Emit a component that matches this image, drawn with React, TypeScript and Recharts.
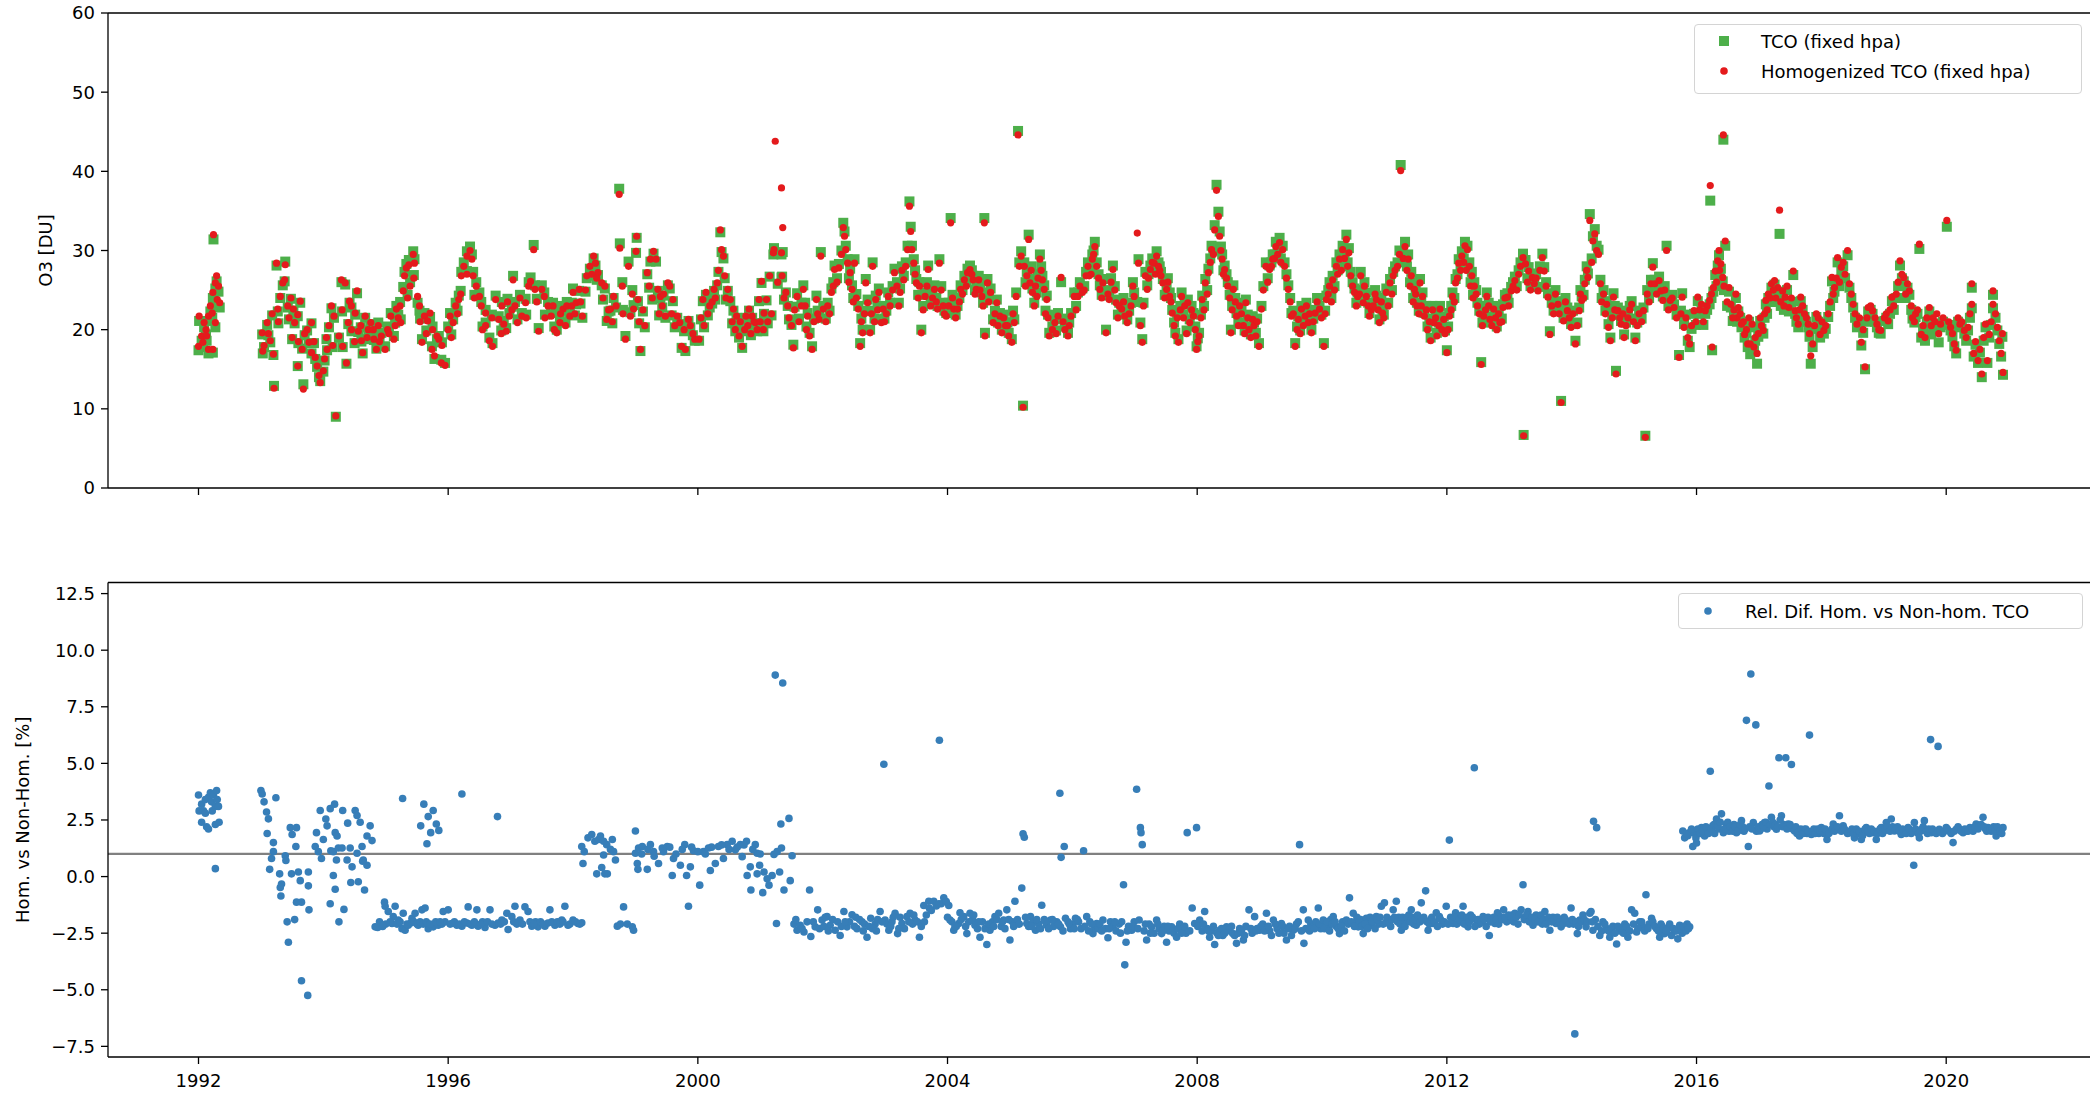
import { ScatterChart, Scatter, XAxis, YAxis, ReferenceLine, Legend } from "recharts"

type Row3 = [number, number, number]
type Row2 = [number, number]

const FONT = "DejaVu Sans"
const GREEN = "#4daf4a"
const RED = "#e41a1c"
const BLUE = "#377eb8"

// [decimal year, homogenized TCO, TCO] in DU
const tco1992to1994: Row3[] = [
  [1992.0, 17.9, 17.4], [1992.01, 21.7, 21.1], [1992.05, 19.2, 18.6], [1992.07, 18.4, 17.8], [1992.09, 20.9, 20.3],
  [1992.12, 20.0, 19.4], [1992.13, 19.2, 18.6], [1992.16, 21.7, 21.1], [1992.16, 17.5, 17.0], [1992.19, 23.0, 22.3],
  [1992.22, 22.1, 21.5], [1992.23, 24.7, 24.0], [1992.23, 17.5, 17.1], [1992.24, 32.0, 31.4], [1992.27, 25.9, 25.2],
  [1992.27, 20.9, 20.3], [1992.29, 26.8, 26.1], [1992.3, 23.8, 23.1], [1992.32, 25.5, 24.8], [1992.34, 23.4, 22.8],
  [1993.02, 19.6, 19.4], [1993.03, 17.3, 17.0], [1993.1, 20.9, 20.6], [1993.15, 18.6, 18.4], [1993.2, 16.9, 16.8],
  [1993.21, 12.6, 12.9], [1993.25, 28.4, 28.1], [1993.27, 22.6, 22.3], [1993.31, 24.2, 24.0], [1993.35, 25.9, 25.6],
  [1993.39, 28.2, 28.6], [1993.38, 26.3, 26.1], [1993.43, 23.0, 22.8], [1993.48, 24.0, 23.9], [1993.52, 22.6, 22.4],
  [1993.54, 20.9, 20.8], [1993.59, 21.9, 21.7], [1993.59, 15.4, 15.4], [1993.63, 23.6, 23.4], [1993.66, 17.5, 17.6],
  [1993.68, 12.5, 13.1], [1993.74, 20.0, 19.9], [1993.77, 18.4, 18.3], [1993.81, 20.9, 20.8], [1993.81, 17.1, 17.0],
  [1993.87, 16.5, 16.3], [1993.9, 15.4, 15.3], [1993.93, 14.2, 14.0], [1993.95, 13.3, 13.5], [1994.0, 14.8, 14.7],
  [1994.02, 16.3, 16.1], [1994.06, 17.5, 17.4], [1994.09, 20.5, 20.3], [1994.13, 23.0, 22.7], [1994.17, 21.7, 21.5],
  [1994.2, 9.1, 9.0], [1994.25, 19.2, 19.0], [1994.29, 26.3, 26.0], [1994.35, 25.9, 25.7], [1994.31, 17.9, 17.8],
  [1994.37, 15.8, 15.7], [1994.4, 20.9, 20.7], [1994.42, 23.6, 23.4], [1994.45, 23.0, 22.8], [1994.51, 22.1, 21.9],
  [1994.54, 24.9, 24.6], [1994.56, 19.8, 19.7], [1994.61, 18.6, 18.5], [1994.63, 17.1, 17.0], [1994.67, 21.7, 21.5],
  [1994.72, 20.0, 19.9], [1994.76, 20.9, 20.7], [1994.81, 18.8, 18.7], [1994.85, 17.5, 17.6], [1994.88, 20.5, 20.9],
  [1994.93, 19.2, 19.6], [1994.99, 17.5, 17.9],
]

const tco1995to1997: Row3[] = [
  [1995.03, 20.0, 20.4], [1995.08, 21.7, 22.1], [1995.13, 18.8, 19.2], [1995.17, 22.6, 23.0], [1995.23, 23.0, 23.5],
  [1995.24, 20.9, 21.3], [1995.28, 24.9, 25.4], [1995.3, 26.8, 27.3], [1995.33, 27.8, 28.3], [1995.37, 28.2, 28.8],
  [1995.44, 29.5, 29.9], [1995.46, 28.4, 28.9], [1995.39, 25.5, 26.0], [1995.51, 24.2, 23.4], [1995.54, 23.0, 22.4],
  [1995.58, 18.4, 18.8], [1995.62, 21.7, 22.1], [1995.67, 21.1, 21.5], [1995.71, 22.1, 21.6], [1995.74, 17.5, 17.9],
  [1995.78, 16.7, 16.3], [1995.82, 19.2, 18.8], [1995.85, 18.8, 19.2], [1995.89, 15.8, 16.2], [1995.95, 15.5, 15.8],
  [1996.0, 20.0, 20.4], [1996.03, 21.7, 22.1], [1996.08, 20.9, 21.3], [1996.12, 23.0, 23.4], [1996.17, 23.8, 24.3],
  [1996.21, 26.8, 27.3], [1996.25, 28.0, 28.5], [1996.3, 29.3, 29.9], [1996.35, 30.0, 30.5], [1996.38, 28.9, 29.5],
  [1996.4, 26.8, 27.3], [1996.45, 25.5, 26.0], [1996.5, 24.2, 24.7], [1996.53, 23.0, 23.5], [1996.55, 20.0, 20.4],
  [1996.6, 22.1, 22.5], [1996.66, 18.6, 19.0], [1996.71, 17.9, 18.3], [1996.76, 23.8, 24.3], [1996.81, 21.3, 21.7],
  [1996.86, 23.0, 23.5], [1996.89, 20.7, 21.1], [1996.93, 19.8, 20.2], [1996.98, 21.7, 22.1], [1997.04, 26.3, 26.8],
  [1997.07, 23.0, 23.5], [1997.11, 20.9, 21.3], [1997.18, 21.7, 22.1], [1997.24, 23.4, 23.9], [1997.29, 25.5, 26.0],
  [1997.32, 26.1, 26.6], [1997.37, 30.1, 30.7], [1997.39, 25.1, 25.6], [1997.45, 19.8, 20.2], [1997.5, 25.1, 25.6],
  [1997.54, 24.2, 24.7], [1997.6, 23.0, 23.5], [1997.65, 21.7, 22.1], [1997.7, 20.0, 20.4], [1997.74, 19.6, 20.0],
  [1997.79, 20.9, 21.3], [1997.84, 22.6, 23.0], [1997.9, 23.0, 23.5], [1997.95, 21.7, 22.1],
]

const tcoFill1993to1997: Row3[] = [
  [1993.05, 18.0, 17.8], [1993.12, 19.5, 19.3], [1993.18, 22.0, 21.8], [1993.28, 21.0, 20.8], [1993.45, 21.5, 21.3],
  [1993.5, 19.0, 18.8], [1993.6, 18.5, 18.3], [1993.7, 19.5, 19.3], [1993.85, 18.5, 18.3], [1994.05, 19.0, 18.8],
  [1994.15, 18.0, 17.8], [1994.3, 22.5, 22.3], [1994.45, 20.0, 19.8], [1994.5, 18.5, 18.3], [1994.6, 20.5, 20.3],
  [1994.7, 19.0, 18.8], [1994.8, 20.0, 19.8], [1994.9, 18.5, 18.9], [1995.05, 19.5, 19.9], [1995.15, 20.5, 20.9],
  [1995.2, 21.5, 21.9], [1995.35, 24.0, 24.4], [1995.45, 26.5, 26.9], [1995.55, 21.0, 21.4], [1995.65, 19.5, 19.9],
  [1995.75, 20.0, 20.4], [1995.9, 18.0, 18.4], [1996.05, 19.0, 19.4], [1996.15, 22.0, 22.4], [1996.2, 24.5, 24.9],
  [1996.3, 27.0, 27.4], [1996.42, 24.0, 24.4], [1996.6, 20.5, 20.9], [1996.7, 21.5, 21.9], [1996.85, 19.5, 19.9],
  [1996.95, 23.5, 23.9], [1997.02, 22.5, 22.9], [1997.15, 24.0, 24.4], [1997.25, 21.5, 21.9], [1997.42, 23.5, 23.9],
  [1997.55, 21.5, 21.9], [1997.68, 23.0, 23.4], [1997.8, 22.0, 22.4], [1997.88, 20.5, 20.9], [1997.98, 23.0, 23.4],
]

const tco1998to2001: Row3[] = [
  [1998.0, 24.7, 25.2], [1998.05, 23.4, 23.2], [1998.1, 25.1, 24.9], [1998.15, 21.7, 21.5], [1998.22, 26.8, 26.5],
  [1998.27, 28.0, 27.7], [1998.33, 29.3, 29.0], [1998.36, 28.4, 28.1], [1998.4, 27.2, 26.9], [1998.46, 25.9, 25.6],
  [1998.51, 25.5, 25.2], [1998.54, 21.3, 21.1], [1998.6, 22.6, 22.4], [1998.65, 24.2, 24.0], [1998.69, 23.0, 22.8],
  [1998.74, 37.1, 37.8], [1998.75, 30.3, 30.9], [1998.79, 25.5, 26.0], [1998.84, 18.8, 19.2], [1998.89, 28.0, 28.6],
  [1998.92, 21.7, 22.2], [1998.97, 22.6, 23.1], [1999.02, 31.8, 31.6], [1999.01, 29.9, 29.7], [1999.04, 23.8, 23.6],
  [1999.08, 17.5, 17.3], [1999.15, 20.5, 20.3], [1999.19, 27.2, 27.0], [1999.24, 28.9, 28.6], [1999.29, 29.9, 29.6],
  [1999.33, 28.9, 28.6], [1999.36, 25.1, 24.9], [1999.4, 24.2, 24.0], [1999.43, 23.0, 22.8], [1999.48, 21.7, 21.5],
  [1999.52, 25.9, 25.6], [1999.55, 25.5, 25.2], [1999.6, 23.8, 23.6], [1999.67, 21.7, 21.5], [1999.71, 20.9, 20.7],
  [1999.74, 17.9, 17.7], [1999.8, 17.5, 17.3], [1999.85, 21.3, 21.1], [1999.88, 20.5, 20.3], [1999.95, 18.8, 18.6],
  [2000.02, 18.8, 18.6], [2000.08, 23.8, 23.6], [2000.13, 24.7, 24.4], [2000.19, 23.0, 22.8], [2000.26, 25.1, 24.9],
  [2000.31, 25.9, 25.6], [2000.36, 32.6, 32.3], [2000.38, 30.1, 29.8], [2000.41, 29.3, 29.0], [2000.43, 26.8, 26.5],
  [2000.48, 25.1, 24.9], [2000.52, 23.8, 23.6], [2000.57, 22.6, 22.4], [2000.62, 21.7, 21.5], [2000.66, 19.2, 19.0],
  [2000.71, 17.9, 17.7], [2000.77, 21.7, 21.5], [2000.82, 22.6, 22.4], [2000.87, 21.7, 21.5], [2000.92, 20.9, 20.7],
  [2000.98, 23.8, 23.6], [2001.02, 26.1, 25.9], [2001.06, 22.1, 22.0], [2001.1, 23.8, 23.7], [2001.15, 26.8, 26.7],
  [2001.21, 29.7, 29.5], [2001.22, 30.1, 30.3], [2001.24, 43.8, 29.6], [2001.34, 37.9, 26.6], [2001.36, 32.9, 29.8],
  [2001.34, 29.7, 29.5], [2001.35, 26.8, 26.7], [2001.41, 24.7, 24.7], [2001.44, 23.0, 23.0], [2001.5, 20.5, 20.6],
  [2001.53, 17.7, 18.1], [2001.59, 24.2, 24.6], [2001.69, 25.1, 25.6], [2001.72, 23.0, 23.4], [2001.76, 21.7, 22.1],
  [2001.79, 19.2, 19.6], [2001.83, 17.5, 17.9], [2001.9, 23.8, 24.3], [2001.94, 21.3, 21.7], [2001.97, 29.3, 29.8],
]

const tcoFill1998to2002: Row3[] = [
  [1998.03, 22.0, 21.8], [1998.12, 23.5, 23.3], [1998.2, 25.0, 24.8], [1998.3, 27.0, 26.8], [1998.38, 26.5, 26.3],
  [1998.48, 24.0, 23.8], [1998.57, 22.5, 22.3], [1998.63, 21.0, 20.8], [1998.8, 22.0, 22.5], [1998.95, 24.5, 25.0],
  [1999.06, 21.0, 20.8], [1999.12, 22.5, 22.3], [1999.22, 25.5, 25.3], [1999.27, 24.0, 23.8], [1999.38, 22.0, 21.8],
  [1999.45, 24.5, 24.3], [1999.58, 22.0, 21.8], [1999.63, 20.5, 20.3], [1999.78, 20.0, 19.8], [1999.92, 19.5, 19.3],
  [2000.05, 21.5, 21.3], [2000.1, 20.5, 20.3], [2000.16, 22.0, 21.8], [2000.23, 23.5, 23.3], [2000.28, 24.0, 23.8],
  [2000.33, 27.5, 27.3], [2000.45, 24.0, 23.8], [2000.55, 21.0, 20.8], [2000.6, 20.0, 19.8], [2000.68, 21.0, 20.8],
  [2000.75, 20.0, 19.8], [2000.8, 20.5, 20.3], [2000.85, 19.5, 19.3], [2000.9, 21.0, 20.8], [2000.95, 20.0, 19.8],
  [2001.0, 21.0, 20.8], [2001.05, 20.0, 19.8], [2001.12, 21.0, 20.8], [2001.18, 22.0, 21.8], [2001.28, 26.0, 25.8],
  [2001.38, 24.0, 23.8], [2001.46, 21.5, 21.3], [2001.55, 22.5, 22.9], [2001.62, 21.0, 21.4], [2001.66, 23.0, 23.4],
  [2001.74, 20.0, 20.4], [2001.86, 21.0, 21.4], [2001.92, 22.0, 22.4], [2002.05, 21.0, 21.4], [2002.11, 22.0, 22.4],
  [2002.17, 25.5, 26.0], [2002.23, 26.0, 26.5], [2002.3, 29.5, 30.0], [2002.42, 26.0, 26.5], [2002.49, 23.5, 24.0],
  [2002.54, 24.0, 24.5], [2002.62, 21.0, 21.4], [2002.67, 22.0, 22.4], [2002.78, 22.0, 22.4], [2002.83, 21.0, 21.4],
  [2002.88, 22.5, 23.0], [2002.99, 21.0, 21.4],
]

const tco2002to2005: Row3[] = [
  [2002.01, 22.6, 23.0], [2002.08, 23.0, 23.4], [2002.14, 24.7, 25.2], [2002.19, 27.6, 28.1], [2002.26, 27.8, 28.3],
  [2002.33, 32.9, 33.5], [2002.35, 31.8, 32.4], [2002.37, 30.1, 30.6], [2002.4, 28.4, 28.9], [2002.44, 27.2, 27.7],
  [2002.47, 25.1, 25.6], [2002.51, 28.4, 28.9], [2002.57, 22.6, 23.0], [2002.6, 17.9, 18.3], [2002.64, 19.6, 20.0],
  [2002.69, 25.9, 26.4], [2002.72, 23.4, 23.8], [2002.76, 19.6, 20.0], [2002.8, 28.0, 28.5], [2002.85, 23.8, 24.3],
  [2002.9, 24.7, 25.2], [2002.94, 20.9, 21.3], [2002.97, 22.6, 23.0], [2003.05, 24.2, 24.7], [2003.08, 23.0, 23.4],
  [2003.15, 27.2, 27.7], [2003.19, 25.5, 26.0], [2003.24, 24.7, 25.2], [2003.3, 26.3, 26.8], [2003.36, 30.1, 30.6],
  [2003.39, 35.6, 36.2], [2003.41, 32.4, 33.0], [2003.43, 30.1, 30.6], [2003.46, 28.4, 28.9], [2003.5, 25.9, 26.4],
  [2003.55, 25.5, 26.0], [2003.58, 19.6, 20.0], [2003.64, 24.2, 24.7], [2003.69, 27.6, 28.1], [2003.73, 23.0, 23.4],
  [2003.79, 25.1, 25.6], [2003.84, 22.6, 23.0], [2003.87, 28.4, 28.9], [2003.93, 23.0, 23.4], [2003.98, 21.7, 22.1],
  [2004.05, 33.5, 34.1], [2004.1, 22.6, 23.0], [2004.16, 22.6, 23.0], [2004.21, 25.1, 25.6], [2004.27, 26.3, 26.8],
  [2004.32, 27.2, 27.7], [2004.36, 27.6, 28.1], [2004.41, 26.3, 26.8], [2004.46, 25.1, 25.6], [2004.5, 26.3, 26.8],
  [2004.55, 24.2, 24.7], [2004.59, 33.5, 34.1], [2004.6, 19.2, 19.6], [2004.64, 25.9, 26.4], [2004.69, 24.7, 25.2],
  [2004.73, 20.9, 21.3], [2004.79, 23.4, 23.8], [2004.84, 21.7, 22.1], [2004.87, 19.6, 20.0], [2004.93, 20.5, 20.9],
  [2004.98, 19.2, 19.6], [2005.03, 18.4, 18.8], [2005.07, 20.9, 21.3], [2005.1, 24.2, 24.7], [2005.13, 44.6, 45.1],
  [2005.15, 28.0, 28.5], [2005.18, 29.3, 29.9], [2005.21, 10.2, 10.4], [2005.23, 28.0, 28.5], [2005.27, 26.8, 27.3],
  [2005.3, 31.4, 32.0], [2005.32, 25.9, 26.4], [2005.36, 24.7, 25.2], [2005.39, 23.0, 23.4], [2005.43, 24.2, 24.7],
  [2005.48, 28.9, 29.5], [2005.52, 26.3, 26.8], [2005.55, 25.1, 25.6], [2005.59, 23.8, 24.3], [2005.63, 19.2, 19.6],
  [2005.72, 20.9, 21.3], [2005.77, 21.7, 22.1], [2005.82, 26.6, 26.0], [2005.88, 20.0, 20.4], [2005.93, 19.2, 19.6],
  [2005.98, 21.7, 22.1],
]

const tcoFill2003to2007: Row3[] = [
  [2003.02, 22.0, 22.4], [2003.12, 25.0, 25.5], [2003.22, 23.0, 23.4], [2003.27, 27.5, 28.0], [2003.33, 28.0, 28.5],
  [2003.48, 27.0, 27.5], [2003.53, 24.0, 24.4], [2003.61, 22.5, 23.0], [2003.67, 25.5, 26.0], [2003.76, 24.0, 24.4],
  [2003.82, 23.5, 24.0], [2003.9, 25.0, 25.5], [2003.95, 22.0, 22.4], [2004.02, 23.0, 23.4], [2004.08, 24.0, 24.4],
  [2004.13, 21.5, 21.9], [2004.19, 23.5, 24.0], [2004.24, 24.5, 25.0], [2004.3, 25.5, 26.0], [2004.39, 27.0, 27.5],
  [2004.44, 24.5, 25.0], [2004.52, 25.0, 25.5], [2004.57, 23.0, 23.4], [2004.66, 23.5, 24.0], [2004.76, 22.0, 22.4],
  [2004.81, 20.5, 20.9], [2004.9, 21.5, 21.9], [2004.96, 20.5, 20.9], [2005.05, 22.0, 22.4], [2005.25, 25.5, 26.0],
  [2005.34, 27.5, 28.0], [2005.41, 25.5, 26.0], [2005.45, 26.5, 27.0], [2005.5, 27.5, 28.0], [2005.57, 22.0, 22.4],
  [2005.61, 21.5, 21.9], [2005.68, 20.0, 20.4], [2005.74, 19.5, 19.9], [2005.85, 21.0, 21.4], [2005.95, 20.5, 20.9],
  [2006.06, 22.5, 23.0], [2006.12, 25.5, 26.0], [2006.19, 25.0, 25.5], [2006.25, 28.0, 28.5], [2006.3, 27.0, 27.5],
  [2006.34, 29.5, 30.0], [2006.42, 26.5, 27.0], [2006.47, 24.0, 24.4], [2006.57, 24.5, 25.0], [2006.62, 26.0, 26.5],
  [2006.68, 25.0, 25.5], [2006.73, 21.5, 21.9], [2006.82, 23.5, 24.0], [2006.91, 22.0, 22.4], [2006.97, 25.5, 26.0],
  [2007.14, 23.0, 23.4], [2007.22, 26.5, 27.0], [2007.28, 28.5, 29.0], [2007.33, 27.0, 27.5], [2007.4, 27.5, 28.0],
  [2007.48, 24.0, 24.4], [2007.53, 26.0, 26.5], [2007.58, 23.5, 24.0], [2007.63, 20.5, 20.9], [2007.68, 21.5, 21.9],
  [2007.73, 22.5, 23.0], [2007.78, 21.5, 21.9], [2007.83, 19.5, 19.9], [2007.91, 22.5, 23.0], [2007.97, 20.0, 20.4],
]

const tco2006to2009: Row3[] = [
  [2006.03, 24.2, 24.7], [2006.09, 24.2, 24.7], [2006.16, 24.7, 25.2], [2006.22, 26.8, 27.3], [2006.27, 26.8, 27.3],
  [2006.32, 28.9, 29.5], [2006.36, 30.5, 31.1], [2006.39, 28.0, 28.5], [2006.44, 25.1, 25.6], [2006.49, 25.9, 26.4],
  [2006.54, 19.6, 20.0], [2006.59, 23.8, 24.3], [2006.65, 27.6, 28.1], [2006.7, 23.4, 23.8], [2006.75, 23.0, 23.4],
  [2006.79, 22.6, 23.0], [2006.84, 21.7, 22.1], [2006.88, 20.9, 21.3], [2006.94, 23.0, 23.4], [2006.99, 24.2, 24.7],
  [2007.04, 32.2, 23.5], [2007.06, 28.4, 28.9], [2007.09, 20.5, 20.9], [2007.12, 18.4, 18.8], [2007.17, 26.8, 27.3],
  [2007.2, 25.1, 25.6], [2007.25, 27.6, 28.1], [2007.31, 28.4, 28.9], [2007.35, 29.3, 29.9], [2007.38, 28.0, 28.5],
  [2007.42, 26.8, 27.3], [2007.45, 25.9, 26.4], [2007.51, 25.1, 25.6], [2007.56, 24.2, 24.7], [2007.6, 22.1, 22.5],
  [2007.65, 19.2, 19.6], [2007.7, 18.4, 18.8], [2007.75, 24.2, 24.7], [2007.8, 23.0, 23.4], [2007.85, 23.4, 23.8],
  [2007.88, 20.9, 21.3], [2007.94, 21.7, 22.1], [2007.99, 17.5, 17.9], [2008.03, 19.2, 19.6], [2008.08, 23.8, 24.3],
  [2008.13, 25.9, 26.4], [2008.18, 27.2, 27.7], [2008.23, 30.1, 30.6], [2008.28, 32.6, 33.2], [2008.31, 37.6, 38.3],
  [2008.34, 34.3, 34.9], [2008.36, 31.8, 32.4], [2008.4, 28.9, 29.5], [2008.44, 27.6, 28.1], [2008.49, 25.5, 26.0],
  [2008.54, 19.6, 20.0], [2008.58, 25.1, 25.6], [2008.63, 21.7, 22.1], [2008.68, 23.0, 23.4], [2008.74, 20.5, 20.9],
  [2008.78, 23.4, 23.8], [2008.83, 20.0, 20.4], [2008.89, 21.3, 21.7], [2008.94, 19.2, 19.6], [2008.99, 17.9, 18.3],
  [2009.03, 22.6, 23.0], [2009.1, 28.0, 28.5], [2009.16, 27.6, 28.1], [2009.21, 28.9, 29.5], [2009.26, 30.5, 31.1],
  [2009.32, 31.0, 31.6], [2009.37, 30.1, 30.6], [2009.4, 28.0, 28.5], [2009.46, 25.1, 25.6], [2009.51, 21.7, 22.1],
  [2009.57, 17.9, 18.3], [2009.62, 21.3, 21.7], [2009.67, 22.6, 23.0], [2009.73, 21.7, 22.1], [2009.78, 20.9, 21.3],
  [2009.83, 19.6, 20.0], [2009.89, 22.1, 22.5], [2009.96, 22.6, 23.0],
]

const tcoFill2008to2012: Row3[] = [
  [2008.01, 18.5, 18.9], [2008.06, 21.5, 21.9], [2008.11, 22.5, 23.0], [2008.16, 24.5, 25.0], [2008.21, 28.5, 29.0],
  [2008.26, 29.5, 30.0], [2008.38, 30.0, 30.5], [2008.42, 27.0, 27.5], [2008.47, 26.5, 27.0], [2008.52, 24.0, 24.4],
  [2008.56, 22.5, 23.0], [2008.61, 23.5, 24.0], [2008.66, 20.5, 20.9], [2008.71, 22.0, 22.4], [2008.76, 19.5, 19.9],
  [2008.81, 21.5, 21.9], [2008.86, 19.0, 19.4], [2008.91, 20.5, 20.9], [2008.96, 21.0, 21.4], [2009.06, 25.0, 25.5],
  [2009.13, 26.0, 26.5], [2009.19, 28.0, 28.5], [2009.24, 29.0, 29.5], [2009.29, 29.5, 30.0], [2009.34, 28.5, 29.0],
  [2009.43, 26.5, 27.0], [2009.49, 23.5, 24.0], [2009.54, 22.0, 22.4], [2009.6, 20.0, 20.4], [2009.65, 19.5, 19.9],
  [2009.7, 20.5, 20.9], [2009.75, 23.0, 23.4], [2009.8, 22.0, 22.4], [2009.86, 21.0, 21.4], [2009.92, 23.5, 24.0],
  [2009.99, 21.5, 21.9], [2010.05, 22.0, 22.4], [2010.1, 24.5, 25.0], [2010.15, 23.5, 24.0], [2010.2, 25.0, 25.5],
  [2010.25, 27.0, 27.5], [2010.31, 27.5, 28.0], [2010.36, 29.0, 29.5], [2010.41, 28.0, 28.5], [2010.49, 25.5, 26.0],
  [2010.55, 23.0, 23.4], [2010.6, 24.5, 25.0], [2010.68, 25.5, 26.0], [2010.74, 23.0, 23.4], [2010.79, 22.5, 23.0],
  [2010.85, 24.5, 25.0], [2010.9, 22.5, 23.0], [2010.95, 23.5, 24.0], [2010.99, 21.5, 21.9], [2011.06, 23.0, 23.4],
  [2011.12, 24.5, 25.0], [2011.17, 27.5, 28.0], [2011.24, 29.5, 30.0], [2011.3, 29.0, 29.5], [2011.36, 27.5, 28.0],
  [2011.41, 25.5, 26.0], [2011.46, 23.5, 24.0], [2011.5, 24.5, 25.0], [2011.55, 22.0, 22.4], [2011.59, 23.0, 23.4],
  [2011.67, 22.5, 23.0], [2011.72, 21.0, 21.4], [2011.77, 22.5, 23.0], [2011.82, 21.5, 21.9], [2011.87, 20.5, 20.9],
  [2011.92, 20.0, 20.4], [2011.97, 19.5, 19.9], [2012.02, 20.0, 20.4], [2012.07, 22.5, 23.0], [2012.12, 23.5, 24.0],
  [2012.17, 26.5, 27.0], [2012.22, 27.5, 28.0], [2012.27, 28.5, 29.0], [2012.31, 27.5, 28.0], [2012.38, 25.5, 26.0],
  [2012.42, 24.0, 24.4], [2012.47, 24.5, 25.0], [2012.52, 22.0, 22.4], [2012.57, 20.5, 20.9], [2012.62, 22.5, 23.0],
  [2012.67, 23.0, 23.4], [2012.72, 20.5, 20.9], [2012.78, 21.5, 21.9], [2012.83, 22.0, 22.4], [2012.88, 21.0, 21.4],
  [2012.93, 24.0, 24.4], [2012.99, 23.0, 23.4],
]

const tco2010to2013: Row3[] = [
  [2010.03, 17.9, 18.3], [2010.07, 23.8, 24.3], [2010.12, 25.5, 26.0], [2010.17, 26.3, 26.8], [2010.23, 28.0, 28.5],
  [2010.28, 28.9, 29.5], [2010.33, 30.1, 30.6], [2010.39, 31.4, 32.0], [2010.43, 29.7, 30.3], [2010.46, 26.8, 27.3],
  [2010.52, 24.7, 25.2], [2010.57, 24.2, 24.7], [2010.62, 26.8, 27.3], [2010.66, 23.4, 23.8], [2010.71, 24.2, 24.7],
  [2010.76, 21.7, 22.1], [2010.82, 23.0, 23.4], [2010.87, 23.8, 24.3], [2010.92, 20.9, 21.3], [2010.97, 22.1, 22.5],
  [2011.03, 24.7, 25.2], [2011.09, 25.9, 26.4], [2011.14, 26.8, 27.3], [2011.21, 28.0, 28.5], [2011.26, 40.1, 40.8],
  [2011.33, 30.5, 31.1], [2011.38, 28.9, 29.5], [2011.43, 26.8, 27.3], [2011.48, 25.1, 25.6], [2011.52, 23.0, 23.4],
  [2011.57, 25.9, 26.4], [2011.61, 24.2, 24.7], [2011.64, 21.7, 22.1], [2011.69, 20.0, 20.4], [2011.74, 18.6, 19.0],
  [2011.79, 20.9, 21.3], [2011.84, 19.2, 19.6], [2011.89, 22.6, 23.0], [2011.95, 21.3, 21.7], [2012.0, 17.1, 17.4],
  [2012.04, 21.7, 22.1], [2012.09, 24.2, 24.7], [2012.14, 25.9, 26.4], [2012.19, 28.4, 28.9], [2012.24, 29.3, 29.9],
  [2012.29, 30.6, 31.1], [2012.33, 30.1, 30.6], [2012.36, 28.0, 28.5], [2012.4, 26.8, 27.3], [2012.44, 25.5, 26.0],
  [2012.49, 23.0, 23.4], [2012.55, 15.6, 15.9], [2012.59, 21.7, 22.1], [2012.64, 24.2, 24.7], [2012.69, 21.3, 21.7],
  [2012.75, 22.6, 23.0], [2012.8, 20.0, 20.4], [2012.85, 20.9, 21.3], [2012.9, 22.8, 23.2], [2012.97, 24.1, 24.6],
  [2013.03, 24.9, 25.4], [2013.09, 26.2, 26.7], [2013.15, 27.0, 27.5], [2013.22, 29.1, 29.6], [2013.23, 6.6, 6.7],
  [2013.26, 28.3, 28.8], [2013.31, 27.4, 27.9], [2013.37, 26.6, 27.1], [2013.4, 25.8, 26.3], [2013.46, 24.9, 25.4],
  [2013.53, 29.1, 29.6], [2013.56, 27.4, 27.9], [2013.62, 24.1, 24.6], [2013.65, 19.4, 19.8], [2013.71, 22.0, 22.4],
  [2013.78, 23.2, 23.6], [2013.83, 10.8, 11.0], [2013.87, 21.1, 21.5], [2013.93, 22.4, 22.8], [2013.99, 20.3, 20.7],
]

const tcoFill2013to2016: Row3[] = [
  [2013.06, 25.5, 26.0], [2013.12, 25.0, 25.5], [2013.18, 28.0, 28.5], [2013.29, 26.0, 26.5], [2013.34, 25.0, 25.5],
  [2013.43, 26.5, 27.0], [2013.49, 27.5, 28.0], [2013.59, 25.5, 26.0], [2013.68, 23.0, 23.4], [2013.74, 24.5, 25.0],
  [2013.8, 22.0, 22.4], [2013.9, 23.5, 24.0], [2013.96, 21.5, 21.9], [2014.02, 22.0, 22.4], [2014.09, 20.5, 20.9],
  [2014.14, 24.5, 25.0], [2014.19, 24.0, 24.4], [2014.24, 27.5, 28.0], [2014.32, 28.5, 29.0], [2014.48, 23.5, 24.0],
  [2014.54, 22.0, 22.4], [2014.65, 21.5, 21.9], [2014.69, 22.5, 23.0], [2014.77, 21.5, 21.9], [2014.82, 22.0, 22.4],
  [2014.87, 20.5, 20.9], [2014.93, 22.5, 23.0], [2014.99, 21.0, 21.4], [2015.05, 20.5, 20.9], [2015.12, 21.0, 21.4],
  [2015.24, 23.5, 24.0], [2015.36, 24.5, 25.0], [2015.49, 25.0, 25.5], [2015.55, 22.5, 23.0], [2015.61, 24.0, 24.4],
  [2015.68, 21.5, 21.9], [2015.75, 22.0, 22.4], [2015.83, 21.5, 21.9], [2015.92, 20.5, 20.1], [2015.99, 21.0, 20.6],
  [2016.05, 22.5, 22.0], [2016.11, 21.0, 20.6], [2016.17, 23.0, 22.5], [2016.24, 24.5, 24.0], [2016.32, 26.0, 25.5],
  [2016.37, 27.5, 27.0], [2016.44, 25.5, 25.0], [2016.49, 23.5, 23.0], [2016.6, 22.5, 22.0], [2016.65, 21.5, 21.0],
  [2016.7, 22.0, 21.5], [2016.75, 21.0, 20.6], [2016.8, 20.0, 19.6], [2016.84, 21.5, 21.0], [2016.94, 19.0, 18.6],
  [2016.99, 19.5, 19.1],
]

const tco2014to2017: Row3[] = [
  [2014.06, 18.2, 18.6], [2014.12, 22.4, 22.8], [2014.16, 23.7, 24.2], [2014.21, 25.8, 26.3], [2014.26, 26.6, 27.1],
  [2014.29, 33.8, 34.6], [2014.34, 31.2, 31.8], [2014.37, 32.1, 32.7], [2014.4, 30.0, 30.6], [2014.43, 29.5, 30.1],
  [2014.46, 25.8, 26.3], [2014.51, 24.5, 25.0], [2014.56, 23.2, 23.6], [2014.59, 20.3, 20.7], [2014.62, 18.6, 19.0],
  [2014.67, 24.1, 24.6], [2014.71, 14.4, 14.8], [2014.74, 22.4, 22.8], [2014.79, 20.7, 21.1], [2014.84, 19.0, 19.4],
  [2014.9, 21.5, 21.9], [2014.96, 23.2, 23.6], [2015.02, 18.6, 19.0], [2015.08, 22.0, 22.4], [2015.15, 22.4, 22.8],
  [2015.18, 6.4, 6.6], [2015.21, 24.5, 25.0], [2015.27, 25.8, 26.3], [2015.3, 27.9, 28.4], [2015.33, 25.8, 26.3],
  [2015.4, 26.2, 26.7], [2015.43, 24.9, 25.4], [2015.46, 23.7, 24.2], [2015.52, 30.0, 30.6], [2015.58, 23.7, 24.2],
  [2015.64, 22.8, 23.2], [2015.72, 16.5, 16.8], [2015.77, 24.1, 24.6], [2015.8, 20.3, 20.7], [2015.86, 19.0, 18.6],
  [2015.89, 18.2, 17.8], [2015.96, 22.4, 22.0], [2016.02, 24.1, 23.6], [2016.08, 23.2, 22.8], [2016.14, 22.4, 22.0],
  [2016.21, 23.7, 23.2], [2016.22, 38.2, 36.3], [2016.25, 17.8, 17.4], [2016.27, 25.3, 24.8], [2016.3, 27.4, 26.9],
  [2016.34, 28.7, 28.1], [2016.36, 30.0, 29.4], [2016.39, 28.3, 27.7], [2016.42, 26.6, 26.1], [2016.43, 44.6, 44.0],
  [2016.46, 31.2, 30.6], [2016.52, 25.3, 24.8], [2016.55, 23.2, 22.8], [2016.58, 21.5, 21.1], [2016.63, 24.5, 24.0],
  [2016.67, 22.8, 22.3], [2016.72, 20.7, 20.3], [2016.77, 19.4, 19.0], [2016.82, 18.2, 17.8], [2016.86, 18.2, 16.9],
  [2016.89, 20.7, 20.3], [2016.92, 17.8, 17.4], [2016.97, 17.0, 15.7], [2017.02, 21.5, 21.1], [2017.07, 19.9, 19.5],
  [2017.11, 23.7, 23.2], [2017.15, 24.5, 24.0], [2017.2, 25.8, 25.3], [2017.25, 26.2, 25.7], [2017.3, 25.3, 24.8],
  [2017.33, 35.1, 32.1], [2017.38, 24.9, 24.4], [2017.42, 24.1, 23.6], [2017.48, 22.8, 22.3], [2017.55, 27.4, 26.9],
  [2017.58, 22.4, 22.0], [2017.63, 20.7, 20.3], [2017.67, 24.1, 23.6], [2017.73, 22.0, 21.6], [2017.79, 20.7, 20.3],
  [2017.83, 16.7, 15.7], [2017.86, 18.2, 17.8], [2017.92, 22.0, 21.6], [2017.98, 19.4, 19.0],
]

const tco2018to2020: Row3[] = [
  [2018.04, 19.9, 19.5], [2018.11, 22.0, 21.6], [2018.17, 26.6, 26.1], [2018.21, 25.3, 24.8], [2018.26, 29.1, 28.5],
  [2018.32, 27.9, 27.3], [2018.42, 30.0, 29.4], [2018.45, 25.8, 25.3], [2018.51, 23.2, 22.8], [2018.57, 20.7, 20.3],
  [2018.64, 18.4, 18.0], [2018.7, 15.3, 15.0], [2018.75, 22.8, 22.3], [2018.82, 22.4, 22.0], [2018.89, 20.7, 20.3],
  [2018.95, 19.9, 19.5], [2019.01, 21.5, 21.1], [2019.07, 21.1, 20.7], [2019.13, 24.1, 23.6], [2019.2, 24.5, 24.0],
  [2019.26, 28.7, 28.1], [2019.32, 26.6, 26.1], [2019.38, 25.8, 25.3], [2019.41, 24.9, 24.4], [2019.46, 21.5, 21.4],
  [2019.51, 22.0, 21.6], [2019.57, 30.8, 30.2], [2019.6, 19.4, 19.0], [2019.66, 19.0, 18.6], [2019.73, 22.8, 22.3],
  [2019.79, 21.5, 20.3], [2019.85, 22.0, 20.8], [2019.91, 20.7, 20.3], [2020.01, 33.8, 33.0], [2020.07, 20.3, 19.9],
  [2020.13, 18.2, 17.9], [2020.16, 17.4, 17.0], [2020.22, 20.7, 20.3], [2020.29, 19.9, 19.5], [2020.35, 20.3, 19.9],
  [2020.41, 25.8, 25.3], [2020.41, 23.2, 22.7], [2020.44, 17.0, 16.6], [2020.51, 16.1, 15.8], [2020.57, 14.4, 14.0],
  [2020.63, 20.7, 20.3], [2020.66, 16.1, 15.8], [2020.69, 19.4, 19.0], [2020.75, 24.9, 24.4], [2020.75, 23.2, 22.7],
  [2020.82, 20.3, 19.9], [2020.85, 18.6, 18.2], [2020.88, 17.0, 16.6], [2020.91, 14.6, 14.3],
]

const tcoFill2017to2020: Row3[] = [
  [2017.04, 20.5, 20.1], [2017.09, 22.0, 21.5], [2017.13, 22.5, 22.0], [2017.18, 24.0, 23.5], [2017.23, 25.0, 24.5],
  [2017.27, 24.0, 23.5], [2017.35, 23.5, 23.0], [2017.4, 23.0, 22.5], [2017.45, 25.5, 25.0], [2017.52, 24.0, 23.5],
  [2017.6, 21.5, 21.0], [2017.65, 22.5, 22.0], [2017.7, 23.0, 22.5], [2017.76, 21.5, 21.0], [2017.81, 19.5, 19.1],
  [2017.89, 20.5, 20.1], [2017.95, 21.5, 21.0], [2018.01, 21.0, 20.6], [2018.07, 20.5, 20.1], [2018.14, 23.5, 23.0],
  [2018.19, 24.5, 24.0], [2018.24, 26.5, 26.0], [2018.29, 26.0, 25.5], [2018.35, 28.5, 28.0], [2018.38, 27.0, 26.5],
  [2018.48, 24.5, 24.0], [2018.54, 22.0, 21.5], [2018.61, 21.5, 21.0], [2018.67, 20.0, 19.6], [2018.73, 21.5, 21.0],
  [2018.79, 23.0, 22.5], [2018.86, 21.5, 21.0], [2018.92, 20.0, 19.6], [2019.04, 22.0, 21.5], [2019.1, 22.5, 22.0],
  [2019.16, 23.0, 22.5], [2019.23, 26.0, 25.5], [2019.29, 27.0, 26.5], [2019.35, 24.5, 24.0], [2019.44, 23.0, 22.5],
  [2019.49, 21.0, 20.9], [2019.54, 22.5, 22.0], [2019.63, 20.5, 20.1], [2019.69, 21.5, 21.0], [2019.76, 20.5, 19.4],
  [2019.82, 21.0, 20.6], [2019.88, 19.5, 18.4], [2019.95, 21.5, 21.0], [2020.04, 21.0, 20.6], [2020.1, 19.5, 19.1],
  [2020.19, 21.5, 21.0], [2020.25, 21.0, 20.6], [2020.32, 19.0, 18.6], [2020.38, 22.0, 21.5], [2020.47, 18.5, 18.1],
  [2020.54, 17.5, 17.1], [2020.6, 19.0, 18.6], [2020.72, 21.0, 20.6], [2020.79, 22.0, 21.5], [2020.9, 19.5, 19.1],
]

// [decimal year, relative difference hom. vs non-hom. in %]
const relDif1992to1994: Row2[] = [
  [1992.0, 3.6], [1992.01, 2.9], [1992.05, 3.2], [1992.05, 2.4], [1992.08, 2.9], [1992.11, 2.8], [1992.11, 3.4],
  [1992.13, 2.2], [1992.16, 3.5], [1992.16, 2.1], [1992.19, 3.7], [1992.21, 3.3], [1992.22, 2.9], [1992.24, 3.6],
  [1992.27, 3.1], [1992.27, 2.3], [1992.29, 3.8], [1992.3, 3.4], [1992.32, 3.1], [1992.33, 2.4], [1992.27, 0.35],
  [1993.0, 3.8], [1993.02, 3.65], [1993.05, 3.3], [1993.09, 2.85], [1993.12, 2.55], [1993.24, 3.48], [1993.1, 1.9],
  [1993.2, 1.5], [1993.2, 1.1], [1993.17, 0.8], [1993.14, 0.32], [1993.3, 0.12], [1993.33, -0.33], [1993.31, -0.48],
  [1993.32, -0.86], [1993.39, 0.92], [1993.4, 0.71], [1993.47, 2.16], [1993.57, 2.16], [1993.5, 1.86], [1993.56, 1.33],
  [1993.49, 0.12], [1993.6, 0.2], [1993.63, -0.18], [1993.76, 0.2], [1993.76, -0.41], [1993.57, -1.13], [1993.65, -1.13],
  [1993.77, -1.47], [1993.42, -2.0], [1993.54, -1.9], [1993.44, -2.9], [1993.65, -4.6], [1993.75, -5.25],
  [1993.89, 1.94], [1993.95, 2.92], [1994.0, 1.64], [1994.04, 2.54], [1994.06, 2.24], [1994.11, 3.0], [1994.18, 3.2],
  [1994.19, 1.94], [1994.22, 1.79], [1993.87, 1.33], [1993.92, 1.1], [1993.97, 0.8], [1994.12, 1.14], [1994.16, 1.1],
  [1994.24, 1.26], [1994.3, 1.26], [1994.31, 2.92], [1994.39, 2.36], [1994.43, 1.26], [1994.51, 2.92], [1994.54, 2.7],
  [1994.59, 2.4], [1994.62, 1.33], [1994.54, 1.03], [1994.38, 0.73], [1994.46, 0.43], [1994.21, 0.73], [1994.16, 0.05],
  [1994.19, -0.56], [1994.44, -0.26], [1994.56, -0.23], [1994.66, -0.59], [1994.11, -1.2], [1994.33, -1.45], [1994.25, -2.0],
  [1994.64, 0.73], [1994.7, 0.5], [1994.75, 2.24], [1994.7, 1.79], [1994.78, 1.59], [1994.63, 0.68],
]

const relDif1995to1998: Row2[] = [
  [1994.83, -2.22], [1994.87, -2.25], [1994.99, -1.31], [1995.0, -2.1], [1995.04, -1.54], [1995.1, -2.07], [1995.12, -1.77],
  [1995.15, -1.31], [1995.2, -1.92], [1995.26, -2.3], [1995.28, -1.62], [1995.31, -2.37], [1995.36, -2.15], [1995.4, -2.05],
  [1995.42, -1.84], [1995.47, -1.62], [1995.52, -2.15], [1995.58, -1.47], [1995.63, -1.39], [1995.68, -2.3], [1995.76, -2.22],
  [1995.84, -2.15], [1995.9, -2.1], [1995.92, -1.54], [1995.95, -2.0], [1996.0, -1.47], [1996.06, -2.07], [1996.1, -2.0],
  [1996.14, -2.15], [1996.22, -2.19], [1996.3, -2.05], [1996.32, -1.34], [1996.38, -2.15], [1996.46, -1.47], [1996.48, -2.19],
  [1996.55, -2.0], [1996.59, -2.25], [1996.67, -1.47], [1996.75, -2.15], [1996.8, -2.05], [1996.86, -1.92], [1996.94, -1.62],
  [1996.96, -2.34], [1997.02, -1.77], [1997.07, -1.31], [1997.1, -2.1], [1997.15, -1.92], [1997.23, -1.34], [1997.28, -1.54],
  [1997.34, -2.19], [1997.4, -2.0], [1997.44, -2.22], [1997.55, -2.19], [1997.6, -2.05], [1997.63, -1.47], [1997.71, -2.15],
  [1997.82, -1.92], [1997.87, -1.31], [1997.92, -2.15], [1997.95, -2.1], [1998.0, -1.92], [1998.08, -2.07], [1998.14, -2.04],
  [1994.98, -1.13], [1995.27, 3.45], [1995.61, 3.2], [1995.76, 2.92], [1995.68, 2.65], [1995.56, 2.24], [1995.81, 2.32],
  [1995.85, 2.04], [1995.72, 1.94], [1995.66, 1.45], [1996.22, 3.65], [1996.79, 2.65],
  [1994.9, -2.0], [1994.95, -2.2], [1995.07, -2.0], [1995.18, -2.1], [1995.23, -2.0], [1995.34, -2.1], [1995.45, -2.0],
  [1995.5, -2.1], [1995.55, -2.0], [1995.6, -2.1], [1995.65, -2.0], [1995.71, -2.1], [1995.8, -2.0], [1995.87, -2.0],
  [1996.03, -2.1], [1996.18, -2.1], [1996.26, -2.0], [1996.35, -2.1], [1996.42, -2.0], [1996.52, -2.1], [1996.63, -2.0],
  [1996.7, -2.1], [1996.84, -2.1], [1996.9, -2.0], [1997.05, -2.0], [1997.13, -2.0], [1997.19, -2.1], [1997.31, -2.0],
  [1997.37, -2.1], [1997.48, -2.0], [1997.52, -2.1], [1997.66, -2.0], [1997.75, -2.0], [1997.79, -2.1], [1997.84, -2.0],
  [1998.04, -2.0], [1998.11, -2.1],
]

const relDif1998to2001: Row2[] = [
  [1998.14, 1.33], [1998.18, 1.1], [1998.24, 1.71], [1998.3, 1.86], [1998.35, 1.56], [1998.41, 1.64], [1998.16, 0.58],
  [1998.38, 0.12], [1998.51, 0.12], [1998.49, 0.95], [1998.54, 1.41], [1998.44, 1.79], [1998.49, 1.56], [1998.63, 1.64],
  [1998.65, 1.1], [1998.68, 0.73], [1998.55, 0.12], [1998.46, 0.4], [1998.6, 1.2], [1998.71, -2.19], [1998.76, -2.1],
  [1998.87, -2.1], [1998.95, -2.22], [1998.97, -2.37], [1998.81, -1.34], [1999.0, 1.03], [1999.0, 2.01], [1999.03, 0.58],
  [1999.05, 1.26], [1999.04, 0.32], [1999.11, 1.33], [1999.19, 0.32], [1999.24, 1.41], [1999.29, 1.1], [1999.37, 0.58],
  [1999.43, 1.26], [1999.51, 1.33], [1999.59, 0.05], [1999.61, 0.8], [1999.72, 0.5], [1999.79, 1.41], [1999.82, 0.05],
  [1999.85, -1.31], [1999.88, 0.43], [1999.93, 1.14], [2000.03, -0.38], [2000.09, 1.1], [2000.17, 1.26], [2000.2, 0.27],
  [2000.28, 0.58], [2000.33, 1.33], [2000.41, 0.8], [2000.47, 1.41], [2000.55, 1.56], [2000.6, 1.18], [2000.68, 1.41],
  [2000.71, 0.88], [2000.78, 1.56], [2000.79, 0.05], [2000.84, 0.43], [2000.85, -0.59], [2000.92, 1.41], [2000.95, 1.03],
  [2000.95, 0.12], [2000.99, 0.5], [2001.04, -0.71], [2001.06, 0.2], [2001.11, -0.1], [2001.14, -0.38], [2001.19, 0.05],
  [2001.24, 8.9], [2001.36, 8.55], [2001.22, 0.98], [2001.27, 1.1], [2001.31, 0.2], [2001.33, 2.32], [2001.46, 2.57],
  [2001.34, 1.26], [2001.38, -0.59], [2001.48, -0.18], [2001.51, 0.92], [2001.26, -2.07],
  [1999.1, 1.0], [1999.2, 1.2], [1999.3, 0.9], [1999.45, 1.1], [1999.55, 1.3], [1999.65, 1.0], [1999.75, 1.2],
  [1999.9, 1.3], [2000.0, 1.1], [2000.12, 1.0], [2000.22, 1.3], [2000.38, 1.4], [2000.5, 1.2], [2000.63, 1.3],
  [2000.74, 1.4], [2000.88, 1.2], [2001.0, 1.0],
]

const relDif2001to2006: Row2[] = [
  [2001.54, -2.1], [2001.59, -2.37], [2001.64, -2.15], [2001.7, -2.45], [2001.79, -0.59], [2001.81, -2.65], [2001.88, -2.22],
  [2001.92, -1.47], [2001.99, -1.92], [2002.07, -1.77], [2002.12, -2.15], [2002.2, -2.37], [2002.28, -2.6], [2002.34, -1.54],
  [2002.39, -2.22], [2002.47, -1.69], [2002.55, -2.3], [2002.63, -2.0], [2002.71, -2.68], [2002.77, -1.84], [2002.84, -2.1],
  [2002.92, -1.54], [2002.98, 4.96], [2003.0, -1.92], [2003.06, -2.37], [2003.16, -1.62], [2003.2, -2.52], [2003.27, -2.07],
  [2003.35, -1.77], [2003.4, -1.62], [2003.48, -1.92], [2003.55, -2.68], [2003.62, -1.28], [2003.7, -1.09], [2003.78, -1.09],
  [2003.87, 6.02], [2003.94, -0.94], [2004.02, -1.28], [2004.04, -1.92], [2004.1, -2.37], [2004.18, -2.07], [2004.26, -1.77],
  [2004.31, -2.52], [2004.36, -1.62], [2004.44, -2.15], [2004.52, -2.68], [2004.63, -3.0], [2004.68, -2.37], [2004.76, -1.77],
  [2004.82, -1.62], [2004.9, -1.92], [2004.95, -1.47], [2005.0, -2.8], [2005.08, -1.09], [2005.19, -0.51], [2005.21, 1.89],
  [2005.23, 1.74], [2005.27, -2.07], [2005.33, -1.77], [2005.41, -2.37], [2005.51, -1.27], [2005.59, -2.15], [2005.65, -1.92],
  [2005.8, 3.68], [2005.82, 0.85], [2005.87, 1.33], [2005.81, -2.22], [2005.89, -1.84], [2005.97, -2.3], [2006.05, -1.84],
  [2006.18, 1.14], [2006.23, -1.77], [2006.33, -2.52], [2006.39, -2.07],
  [2001.75, -2.0], [2001.95, -2.3], [2002.02, -2.2], [2002.16, -1.9], [2002.24, -2.0], [2002.43, -2.0], [2002.51, -2.2],
  [2002.59, -1.9], [2002.67, -2.1], [2002.8, -2.3], [2002.88, -1.9], [2003.03, -2.1], [2003.11, -2.0], [2003.24, -1.8],
  [2003.31, -2.3], [2003.44, -2.1], [2003.52, -2.0], [2003.58, -2.2], [2003.66, -1.7], [2003.74, -1.5], [2003.82, -1.3],
  [2003.9, -1.2], [2003.98, -1.1], [2004.07, -2.0], [2004.14, -2.2], [2004.22, -1.9], [2004.4, -1.9], [2004.48, -2.3],
  [2004.56, -2.0], [2004.72, -2.0], [2004.86, -2.2], [2005.04, -2.0], [2005.12, -1.9], [2005.3, -2.2], [2005.37, -2.0],
  [2005.46, -2.1], [2005.55, -1.9], [2005.7, -2.2], [2005.75, -2.0], [2005.93, -2.0], [2006.01, -2.1], [2006.1, -2.0],
  [2006.14, -2.3], [2006.28, -2.0], [2006.36, -2.3],
  [2001.57, -1.9], [2001.67, -2.3], [2001.85, -2.0], [2002.04, -1.8], [2002.09, -2.4], [2002.3, -2.2], [2002.36, -2.0],
  [2002.53, -1.8], [2002.65, -2.4], [2002.74, -2.2], [2002.86, -2.4], [2002.95, -2.0], [2003.09, -2.2], [2003.13, -1.8],
  [2003.22, -2.3], [2003.38, -2.0], [2003.46, -1.7], [2003.63, -2.0], [2003.71, -1.4], [2003.86, -1.2], [2004.0, -1.8],
  [2004.12, -2.2], [2004.2, -1.6], [2004.29, -2.2], [2004.34, -2.0], [2004.42, -1.7], [2004.5, -2.0], [2004.6, -2.3],
  [2004.66, -2.1], [2004.74, -2.2], [2004.79, -1.9], [2004.88, -2.0], [2004.92, -2.3], [2004.98, -1.9], [2005.06, -2.2],
  [2005.15, -2.1], [2005.25, -1.8], [2005.35, -2.2], [2005.43, -1.9], [2005.49, -2.3], [2005.57, -2.0], [2005.62, -2.3],
  [2005.68, -1.9], [2005.78, -2.1], [2005.85, -2.4], [2005.95, -2.1], [2006.03, -2.3], [2006.08, -1.9], [2006.2, -2.2],
  [2006.26, -2.4], [2006.31, -2.1], [2006.41, -2.3],
]

const relDif2006to2010: Row2[] = [
  [2006.44, -2.1], [2006.49, -1.92], [2006.53, -2.3], [2006.57, -2.7], [2006.61, -2.0], [2006.65, -2.22], [2006.7, -2.4],
  [2006.75, -2.1], [2006.79, -2.0], [2006.82, -0.36], [2006.84, -3.9], [2006.86, -2.9], [2006.9, -2.2], [2006.95, -2.37],
  [2006.99, -2.0], [2007.03, 3.86], [2007.07, -1.92], [2007.09, 2.16], [2007.1, 1.94], [2007.12, 1.41], [2007.15, -2.4],
  [2007.19, -2.8], [2007.23, -2.1], [2007.27, -2.22], [2007.31, -2.5], [2007.35, -1.92], [2007.39, -2.3], [2007.43, -2.52],
  [2007.47, -2.2], [2007.51, -2.9], [2007.55, -2.4], [2007.59, -2.22], [2007.63, -2.5], [2007.67, -2.68], [2007.72, -2.1],
  [2007.77, -2.3], [2007.82, -2.5], [2007.84, 1.94], [2007.92, -1.39], [2007.96, -2.07], [2007.99, 2.16], [2008.04, -1.92],
  [2008.08, -2.4], [2008.12, -1.54], [2008.16, -2.3], [2008.2, -2.68], [2008.24, -2.4], [2008.28, -3.0], [2008.32, -2.5],
  [2008.36, -2.37], [2008.41, -2.6], [2008.47, -2.22], [2008.52, -2.4], [2008.57, -2.52], [2008.63, -2.95], [2008.68, -2.3],
  [2008.74, -2.8], [2008.78, -2.2], [2008.83, -1.47], [2008.88, -2.5], [2008.92, -1.77], [2008.96, -2.3], [2009.0, -2.37],
  [2009.05, -2.1], [2009.11, -1.62], [2009.16, -2.4], [2009.22, -1.92], [2009.28, -2.3], [2009.35, -2.07], [2009.39, -2.5],
  [2009.43, -2.8], [2009.48, -2.2], [2009.54, -2.37], [2009.59, -2.1], [2009.64, 1.41], [2009.7, -1.47], [2009.71, -2.95],
  [2009.74, -2.3], [2009.78, -1.92], [2009.82, -2.1], [2009.86, -2.22], [2009.9, -2.0], [2009.94, -1.39], [2009.98, -2.3],
  [2006.47, -2.4], [2006.59, -2.3], [2006.68, -2.0], [2006.77, -2.5], [2006.88, -2.4], [2006.97, -2.2], [2007.05, -2.3],
  [2007.17, -2.1], [2007.25, -2.5], [2007.37, -2.1], [2007.45, -2.4], [2007.53, -2.2], [2007.61, -2.4], [2007.69, -2.3],
  [2007.75, -2.5], [2007.8, -2.2], [2007.88, -2.4], [2008.01, -2.2], [2008.1, -2.1], [2008.18, -2.4], [2008.26, -2.2],
  [2008.34, -2.6], [2008.39, -2.3], [2008.44, -2.5], [2008.55, -2.2], [2008.6, -2.6], [2008.66, -2.5], [2008.71, -2.4],
  [2008.76, -2.6], [2008.86, -2.3], [2008.94, -2.4], [2009.02, -2.2], [2009.08, -2.4], [2009.14, -2.2], [2009.19, -2.6],
  [2009.25, -2.1], [2009.31, -2.5], [2009.37, -2.2], [2009.46, -2.3], [2009.51, -2.6], [2009.57, -2.3], [2009.62, -2.0],
  [2009.67, -2.4], [2009.8, -2.4], [2009.88, -2.3], [2009.96, -2.1],
]

const relDif2010to2014: Row2[] = [
  [2010.02, -1.92], [2010.06, -2.1], [2010.1, -2.22], [2010.14, -1.9], [2010.18, -1.77], [2010.23, -2.2], [2010.28, -2.52],
  [2010.33, -2.0], [2010.39, -1.92], [2010.44, -0.94], [2010.5, -1.62], [2010.54, -2.0], [2010.58, -2.22], [2010.62, -1.9],
  [2010.66, -2.52], [2010.71, -1.84], [2010.75, -2.0], [2010.79, -2.15], [2010.83, -1.9], [2010.87, -1.77], [2010.91, -2.1],
  [2010.95, -1.31], [2011.0, -1.16], [2011.03, -2.0], [2011.06, -1.92], [2011.1, -2.2], [2011.14, -1.47], [2011.19, -1.09],
  [2011.23, -1.8], [2011.27, -2.37], [2011.31, -2.0], [2011.35, -1.92], [2011.39, -1.7], [2011.43, -1.47], [2011.47, -2.1],
  [2011.51, -2.15], [2011.55, -1.9], [2011.59, -1.16], [2011.63, -1.8], [2011.66, -0.63], [2011.7, -2.37], [2011.74, -1.9],
  [2011.78, -2.07], [2011.83, -1.6], [2011.88, -1.77], [2011.93, -2.1], [2011.99, -1.31], [2012.04, 1.61], [2012.06, -1.8],
  [2012.1, -2.07], [2012.14, -1.6], [2012.18, -1.77], [2012.22, -2.0], [2012.26, -1.31], [2012.3, -1.9], [2012.34, -2.22],
  [2012.38, -1.7], [2012.44, 4.81], [2012.47, -1.92], [2012.52, -2.1], [2012.58, -1.77], [2012.63, -2.2], [2012.68, -2.6],
  [2012.72, -1.9], [2012.77, -2.07], [2012.81, -1.6], [2012.85, -1.77], [2012.91, -1.47], [2012.96, -2.0], [2013.01, -1.92],
  [2013.05, -1.7], [2013.09, -1.62], [2013.14, -2.1], [2013.19, -1.47], [2013.22, -0.36], [2013.26, -1.8], [2013.3, -1.54],
  [2013.34, -1.9], [2013.38, -2.15], [2013.43, -1.7], [2013.49, -1.92], [2013.53, -2.1], [2013.57, -1.54], [2013.61, -1.9],
  [2013.65, -2.37], [2013.7, -1.8], [2013.75, -2.07], [2013.79, -1.9], [2013.83, -2.22], [2013.88, -1.8], [2013.93, -2.0],
  [2013.99, -1.39], [2014.03, -2.1], [2014.05, -6.95], [2014.09, -2.52], [2014.13, -1.92], [2014.18, -1.7], [2014.23, -2.22],
  [2010.04, -2.3], [2010.08, -2.0], [2010.12, -2.4], [2010.16, -2.1], [2010.21, -2.0], [2010.26, -2.3], [2010.31, -2.2],
  [2010.36, -2.4], [2010.42, -2.1], [2010.47, -2.0], [2010.52, -2.2], [2010.56, -1.8], [2010.6, -2.0], [2010.64, -2.2],
  [2010.69, -2.1], [2010.73, -2.3], [2010.77, -1.8], [2010.81, -2.0], [2010.85, -2.3], [2010.89, -1.9], [2010.93, -1.8],
  [2010.98, -2.1], [2011.04, -1.8], [2011.08, -2.1], [2011.12, -1.9], [2011.16, -1.8], [2011.21, -2.0], [2011.25, -2.1],
  [2011.29, -1.8], [2011.33, -2.2], [2011.37, -1.8], [2011.41, -2.0], [2011.45, -1.8], [2011.49, -1.9], [2011.53, -1.7],
  [2011.57, -2.0], [2011.61, -1.9], [2011.68, -2.0], [2011.72, -2.1], [2011.76, -1.8], [2011.8, -2.0], [2011.85, -2.2],
  [2011.9, -1.9], [2011.96, -2.0], [2012.02, -2.1], [2012.08, -1.9], [2012.12, -1.8], [2012.16, -2.1], [2012.2, -1.9],
  [2012.24, -1.7], [2012.28, -2.1], [2012.32, -1.8], [2012.36, -2.0], [2012.41, -1.8], [2012.45, -2.2], [2012.5, -1.9],
  [2012.55, -2.0], [2012.6, -1.9], [2012.66, -1.8], [2012.7, -2.0], [2012.75, -1.8], [2012.79, -1.9], [2012.83, -2.1],
  [2012.88, -1.9], [2012.93, -1.8], [2012.99, -1.7], [2013.03, -1.8], [2013.07, -2.0], [2013.11, -1.8], [2013.16, -1.7],
  [2013.24, -1.9], [2013.28, -1.7], [2013.32, -2.0], [2013.36, -1.8], [2013.41, -1.9], [2013.46, -2.0], [2013.51, -1.7],
  [2013.55, -1.9], [2013.59, -2.1], [2013.63, -1.8], [2013.68, -2.0], [2013.72, -1.9], [2013.77, -1.8], [2013.81, -2.0],
  [2013.86, -2.1], [2013.9, -1.9], [2013.96, -2.1], [2014.01, -1.9], [2014.07, -2.0], [2014.11, -2.2], [2014.16, -2.0],
  [2014.2, -1.9], [2014.25, -2.0],
]

const relDif2014to2016: Row2[] = [
  [2014.29, -1.62], [2014.31, -1.54], [2014.34, -2.37], [2014.35, 2.44], [2014.4, 2.16], [2014.38, -1.9], [2014.45, -2.6],
  [2014.5, -2.0], [2014.56, -2.3], [2014.61, -2.68], [2014.66, -2.2], [2014.72, -2.98], [2014.76, -2.4], [2014.8, -2.3],
  [2014.85, -2.1], [2014.9, -2.68], [2014.96, -1.47], [2015.01, -1.62], [2015.04, -2.45], [2015.09, -2.0], [2015.14, -2.22],
  [2015.19, -0.8], [2015.24, -2.1], [2015.28, -1.84], [2015.3, -2.0], [2015.36, -2.3], [2015.41, -2.68], [2015.45, -2.2],
  [2015.49, -2.52], [2015.54, -2.3], [2015.6, -2.6], [2015.65, -2.4], [2015.7, -2.75], [2015.73, -2.15], [2015.77, -2.5],
  [2015.81, -2.37], [2015.85, -2.1], [2015.89, -2.22],
  [2014.33, -2.0], [2014.42, -2.2], [2014.48, -2.4], [2014.53, -2.1], [2014.59, -2.4], [2014.64, -2.3], [2014.69, -2.5],
  [2014.74, -2.2], [2014.83, -2.5], [2014.88, -2.2], [2014.93, -2.4], [2014.99, -2.1], [2015.06, -2.3], [2015.12, -2.0],
  [2015.17, -2.4], [2015.22, -2.3], [2015.33, -2.2], [2015.39, -2.4], [2015.43, -2.1], [2015.47, -2.3], [2015.52, -2.4],
  [2015.57, -2.1], [2015.63, -2.3], [2015.68, -2.4], [2015.75, -2.3], [2015.79, -2.2], [2015.83, -2.4], [2015.87, -2.3],
]

const relDif2016to2020: Row2[] = [
  [2015.78, 2.01], [2015.81, 1.71], [2015.86, 1.8], [2015.89, 1.94], [2015.94, 1.33], [2015.97, 1.9], [2016.0, 1.48],
  [2016.04, 1.9], [2016.08, 2.16], [2016.13, 1.79], [2016.17, 2.0], [2016.22, 4.65], [2016.26, 2.24], [2016.29, 1.9],
  [2016.32, 2.54], [2016.36, 2.1], [2016.4, 2.77], [2016.43, 1.94], [2016.48, 2.32], [2016.52, 2.0], [2016.56, 2.16],
  [2016.6, 2.3], [2016.64, 1.94], [2016.68, 2.2], [2016.72, 2.47], [2016.76, 2.0], [2016.8, 6.9], [2016.83, 1.33],
  [2016.87, 8.95], [2016.91, 2.39], [2016.95, 6.7], [2016.96, 2.0], [2017.01, 2.01], [2017.05, 2.3], [2017.09, 2.39],
  [2017.13, 2.1], [2017.16, 4.0], [2017.2, 2.62], [2017.24, 2.2], [2017.28, 2.09], [2017.32, 5.25], [2017.36, 2.69],
  [2017.4, 2.3], [2017.43, 5.25], [2017.47, 2.32], [2017.52, 4.95], [2017.54, 2.1], [2017.57, 2.01], [2017.61, 1.9],
  [2017.65, 1.79], [2017.69, 2.0], [2017.73, 2.09], [2017.77, 1.9], [2017.81, 6.25], [2017.84, 1.86], [2017.88, 2.1],
  [2017.92, 2.01], [2017.96, 1.9], [2018.0, 2.16], [2018.04, 1.9], [2018.09, 1.64], [2018.14, 2.0], [2018.19, 2.32],
  [2018.24, 2.1], [2018.29, 2.69], [2018.35, 2.24], [2018.4, 2.0], [2018.45, 1.94], [2018.49, 2.1], [2018.53, 1.71],
  [2018.58, 1.9], [2018.64, 1.64], [2018.68, 2.0], [2018.72, 2.16], [2018.77, 1.9], [2018.83, 1.94], [2018.88, 1.64],
  [2018.92, 2.0], [2018.96, 2.16], [2019.0, 2.0], [2019.04, 2.39], [2019.08, 2.1], [2019.12, 2.54], [2019.17, 2.01],
  [2019.22, 2.2], [2019.28, 1.86], [2019.33, 2.0], [2019.39, 2.16], [2019.44, 1.9], [2019.48, 0.5], [2019.49, 2.39],
  [2019.53, 2.0], [2019.57, 1.71], [2019.61, 2.1], [2019.65, 2.47], [2019.7, 1.9], [2019.75, 6.05], [2019.76, 1.94],
  [2019.81, 2.0], [2019.87, 5.75], [2019.89, 2.09], [2019.94, 1.9], [2020.0, 2.16], [2020.05, 2.0], [2020.11, 1.5],
  [2020.16, 2.09], [2020.21, 2.1], [2020.27, 1.94], [2020.32, 2.0], [2020.38, 2.16], [2020.43, 2.0], [2020.48, 2.32],
  [2020.53, 2.2], [2020.59, 2.62], [2020.63, 2.1], [2020.67, 2.16], [2020.72, 2.0], [2020.76, 2.2], [2020.8, 1.79],
  [2020.84, 2.1], [2020.88, 2.09], [2020.91, 2.16],
  [2015.84, 1.9], [2015.92, 2.1], [2015.99, 1.7], [2016.02, 2.1], [2016.06, 1.9], [2016.1, 2.0], [2016.15, 2.2],
  [2016.19, 1.9], [2016.24, 2.1], [2016.28, 2.3], [2016.34, 2.2], [2016.38, 2.4], [2016.45, 2.1], [2016.5, 2.4],
  [2016.54, 2.2], [2016.58, 2.0], [2016.62, 2.2], [2016.66, 2.0], [2016.7, 2.3], [2016.74, 2.2], [2016.78, 2.1],
  [2016.85, 2.2], [2016.89, 2.1], [2016.99, 2.2], [2017.03, 2.1], [2017.07, 2.2], [2017.11, 2.4], [2017.18, 2.3],
  [2017.22, 2.4], [2017.26, 2.3], [2017.3, 2.2], [2017.34, 2.5], [2017.38, 2.2], [2017.45, 2.1], [2017.5, 2.3],
  [2017.59, 2.2], [2017.63, 2.0], [2017.67, 2.1], [2017.71, 1.9], [2017.75, 2.1], [2017.79, 2.0], [2017.86, 2.0],
  [2017.9, 1.9], [2017.94, 2.1], [2017.98, 2.0], [2018.02, 2.0], [2018.06, 2.1], [2018.12, 1.9], [2018.17, 2.1],
  [2018.21, 2.0], [2018.26, 2.2], [2018.32, 2.0], [2018.37, 2.1], [2018.42, 1.9], [2018.47, 2.0], [2018.51, 1.9],
  [2018.56, 2.1], [2018.61, 2.0], [2018.66, 1.8], [2018.7, 2.1], [2018.75, 2.0], [2018.8, 2.1], [2018.85, 2.0],
  [2018.9, 1.9], [2018.94, 2.1], [2018.98, 1.9], [2019.02, 2.1], [2019.06, 2.2], [2019.1, 2.0], [2019.14, 2.2],
  [2019.19, 2.1], [2019.25, 2.0], [2019.3, 2.1], [2019.36, 1.9], [2019.41, 2.1], [2019.46, 2.0], [2019.51, 2.1],
  [2019.55, 1.9], [2019.59, 2.0], [2019.63, 2.2], [2019.68, 2.0], [2019.72, 2.1], [2019.78, 2.1], [2019.84, 1.9],
  [2019.91, 2.0], [2019.97, 2.0], [2020.02, 2.1], [2020.08, 1.9], [2020.13, 2.0], [2020.19, 2.2], [2020.24, 2.0],
  [2020.3, 2.1], [2020.35, 2.0], [2020.41, 2.1], [2020.46, 2.2], [2020.51, 2.1], [2020.56, 2.3], [2020.61, 2.2],
  [2020.65, 2.0], [2020.7, 2.1], [2020.74, 2.1], [2020.78, 2.0], [2020.82, 2.2], [2020.86, 2.0], [2020.89, 1.9],
]

const yearTicks = [1992, 1996, 2000, 2004, 2008, 2012, 2016, 2020]
const o3Ticks = [0, 10, 20, 30, 40, 50, 60]
const relTicks = [-7.5, -5, -2.5, 0, 2.5, 5, 7.5, 10, 12.5]
const meanLine = 1
const legendOrderTop = ["TCO (fixed hpa)", "Homogenized TCO (fixed hpa)"]

const xDomain: [number, number] = [1990.55, 2022.4]
const o3Domain: [number, number] = [0, 60]
const relDomain: [number, number] = [-7.97, 12.99]

const tcoRows = [
  ...tco1992to1994, ...tco1995to1997, ...tcoFill1993to1997, ...tco1998to2001, ...tcoFill1998to2002,
  ...tco2002to2005, ...tcoFill2003to2007, ...tco2006to2009, ...tcoFill2008to2012, ...tco2010to2013,
  ...tcoFill2013to2016, ...tco2014to2017, ...tco2018to2020, ...tcoFill2017to2020,
]
const tcoData = tcoRows.map(([x, , raw]) => ({ x, y: raw }))
const homData = tcoRows.map(([x, hom]) => ({ x, y: hom }))
const relData = [
  ...relDif1992to1994, ...relDif1995to1998, ...relDif1998to2001, ...relDif2001to2006,
  ...relDif2006to2010, ...relDif2010to2014, ...relDif2014to2016, ...relDif2016to2020,
].map(([x, y]) => ({ x, y }))

const tickStyle = { fill: "#000", fontSize: 18, fontFamily: FONT }
const axisStroke = { stroke: "#000", strokeWidth: 1.3 }

const SquareMark = (props: any) => (
  <rect x={props.cx - 5} y={props.cy - 5} width={10} height={10} fill={GREEN} />
)
const RedMark = (props: any) => <circle cx={props.cx} cy={props.cy} r={3.6} fill={RED} />
const BlueMark = (props: any) => <circle cx={props.cx} cy={props.cy} r={3.8} fill={BLUE} />

function LegendBox({ payload, width, padTop, padBottom, order }: any) {
  const items = [...(payload || [])]
  if (order) items.sort((a: any, b: any) => order.indexOf(a.value) - order.indexOf(b.value))
  return (
    <div
      style={{
        width,
        boxSizing: "border-box",
        border: "1px solid #d4d4d4",
        borderRadius: 4,
        background: "rgba(255,255,255,0.8)",
        padding: `${padTop}px 0 ${padBottom}px 0`,
        fontFamily: FONT,
        fontSize: 18,
        color: "#000",
      }}
    >
      {items.map((entry: any) => (
        <div key={entry.value} style={{ display: "flex", alignItems: "center", height: 30 }}>
          <svg width={58} height={30} style={{ marginRight: 8, flex: "none" }}>
            {entry.type === "square" ? (
              <rect x={24} y={10} width={10} height={10} fill={entry.color} />
            ) : (
              <circle cx={29} cy={15} r={3.8} fill={entry.color} />
            )}
          </svg>
          <span style={{ whiteSpace: "nowrap" }}>{entry.value}</span>
        </div>
      ))}
    </div>
  )
}

const axisLabel = (text: string, x: number) => (props: any) => {
  const vb = props.viewBox
  const cy = vb.y + vb.height / 2
  return (
    <text
      x={x}
      y={cy}
      transform={`rotate(-90 ${x} ${cy})`}
      textAnchor="middle"
      dominantBaseline="central"
      fontFamily={FONT}
      fontSize={18}
      fill="#000"
    >
      {text}
    </text>
  )
}

const fmtRel = (v: number) => v.toFixed(1).replace("-", "\u2212")

export default function App() {
  return (
    <div style={{ position: "absolute", left: 0, top: 0, width: 2090, height: 1095, overflow: "hidden", background: "#fff" }}>
      {/* upper panel: TCO and homogenized TCO */}
      <div style={{ position: "absolute", left: 0, top: 0 }}>
        <ScatterChart width={2100} height={520} margin={{ top: 13, right: 4, bottom: 0, left: 0 }}>
          <XAxis
            type="number"
            dataKey="x"
            domain={xDomain}
            ticks={yearTicks}
            allowDataOverflow
            height={32}
            tickSize={7}
            tickFormatter={() => ""}
            axisLine={axisStroke}
            tickLine={axisStroke}
          />
          <YAxis
            type="number"
            dataKey="y"
            domain={o3Domain}
            ticks={o3Ticks}
            allowDataOverflow
            width={108}
            tickSize={7}
            tickMargin={6}
            tick={tickStyle}
            axisLine={axisStroke}
            tickLine={axisStroke}
            label={{ value: "O3 [DU]", content: axisLabel("O3 [DU]", 45) }}
          />
          <ReferenceLine y={60} stroke="#000" strokeWidth={1.3} />
          <Scatter
            name="TCO (fixed hpa)"
            data={tcoData}
            fill={GREEN}
            legendType="square"
            shape={SquareMark}
            isAnimationActive={false}
          />
          <Scatter
            name="Homogenized TCO (fixed hpa)"
            data={homData}
            fill={RED}
            legendType="circle"
            shape={RedMark}
            isAnimationActive={false}
          />
          <Legend
            layout="vertical"
            align="center"
            verticalAlign="middle"
            wrapperStyle={{ top: 24, left: 1694, width: 388, height: "auto" }}
            content={(p: any) => (
              <LegendBox payload={p.payload} width={388} padTop={1} padBottom={7} order={legendOrderTop} />
            )}
          />
        </ScatterChart>
      </div>

      {/* lower panel: relative difference */}
      <div style={{ position: "absolute", left: 0, top: 569 }}>
        <ScatterChart width={2100} height={526} margin={{ top: 13.5, right: 4, bottom: 0, left: 0 }}>
          <XAxis
            type="number"
            dataKey="x"
            domain={xDomain}
            ticks={yearTicks}
            allowDataOverflow
            height={38}
            tickSize={7}
            tickMargin={10}
            tick={tickStyle}
            axisLine={axisStroke}
            tickLine={axisStroke}
          />
          <YAxis
            type="number"
            dataKey="y"
            domain={relDomain}
            ticks={relTicks}
            allowDataOverflow
            width={108}
            tickSize={7}
            tickMargin={6}
            tick={tickStyle}
            tickFormatter={fmtRel}
            axisLine={axisStroke}
            tickLine={axisStroke}
            label={{ value: "Hom. vs Non-Hom. [%]", content: axisLabel("Hom. vs Non-Hom. [%]", 22) }}
          />
          <ReferenceLine y={relDomain[1]} stroke="#000" strokeWidth={1.3} />
          <ReferenceLine y={meanLine} stroke="#808080" strokeWidth={2.2} />
          <Scatter
            name="Rel. Dif. Hom. vs Non-hom. TCO"
            data={relData}
            fill={BLUE}
            legendType="circle"
            shape={BlueMark}
            isAnimationActive={false}
          />
          <Legend
            layout="vertical"
            align="center"
            verticalAlign="middle"
            wrapperStyle={{ top: 24, left: 1678, width: 405, height: "auto" }}
            content={(p: any) => <LegendBox payload={p.payload} width={405} padTop={2} padBottom={2} />}
          />
        </ScatterChart>
      </div>
    </div>
  )
}
